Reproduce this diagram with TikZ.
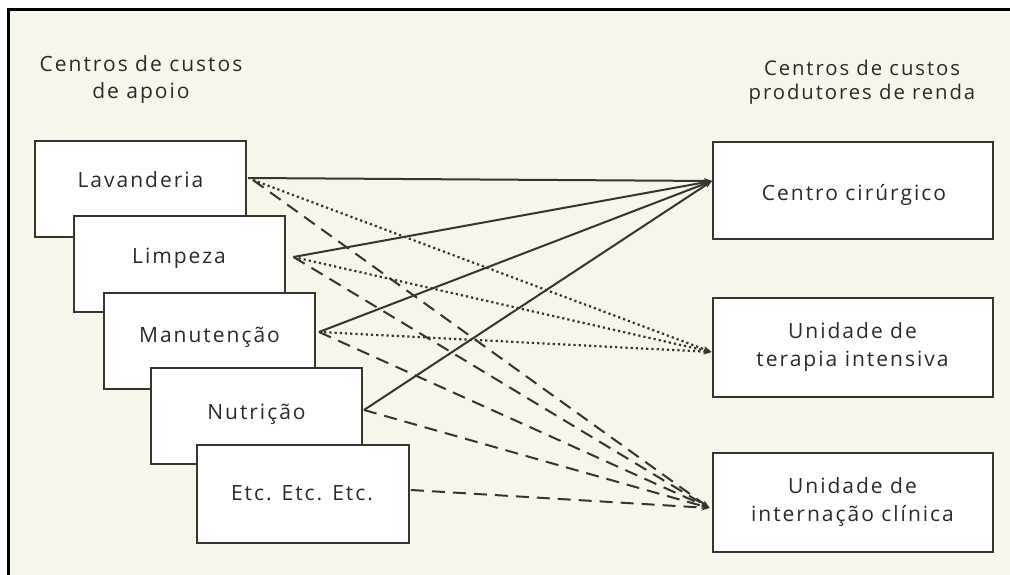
\documentclass[tikz,border=0pt]{standalone}
\usepackage{fontspec}
\setmainfont[LetterSpace=9.5]{Open Sans}
\usetikzlibrary{arrows.meta,calc}
\definecolor{paper}{RGB}{248,245,235}
\definecolor{ink}{RGB}{58,52,46}
\definecolor{txt}{RGB}{45,42,40}
\tikzset{
  box/.style={draw=ink, line width=2pt, fill=white, minimum width=211pt, minimum height=96pt, inner sep=0pt},
  rbox/.style={box, minimum width=280pt, minimum height=98pt, font=\fontsize{21}{28}\selectfont, text=txt, align=center},
  title/.style={font=\fontsize{21}{27}\selectfont, text=txt, align=center, inner sep=0pt},
  rtitle/.style={title, font=\fontsize{20.3}{24}\selectfont},
  conn/.style={draw=ink, line width=2pt, -{Stealth[length=8pt,width=6pt]}},
  solidc/.style={conn},
  dotc/.style={conn, line width=2.2pt, dash pattern=on 2.2pt off 3pt},
  dashc/.style={conn, dash pattern=on 13pt off 8pt},
}
\begin{document}
\begin{tikzpicture}[x=1pt,y=-1pt]
\useasboundingbox (0,0) rectangle (1010,575);
\fill[white] (0,0) rectangle (1010,575);
\fill[paper] (8,10) rectangle (1010,575);
\draw[black, line width=3pt] (8,575) -- (8,10) -- (1010,10);

\node[title] (tl) at (141,80) {Centros de custos\\de apoio};
\node[rtitle] (tr) at (862,82) {Centros de custos\\produtores de renda};

\node[box] (lav) at (140.5,189) {};
\node[box] (lim) at (179,263.5) {};
\node[box] (man) at (209.5,340.5) {};
\node[box] (nut) at (256.5,416) {};
\node[box, minimum width=212pt, minimum height=98pt] (etc) at (303,494) {};

\node[title] (lavt) at (140.5,180) {Lavanderia};
\node[title] (limt) at (179,258) {Limpeza};
\node[title] (mant) at (209.5,337) {Manutenção};
\node[title] (nutt) at (256.5,414) {Nutrição};
\node[title] (etct) at (302,493) {Etc. Etc. Etc.};

\node[rbox, minimum height=97pt] (cc) at (853,190.5) {};
\node[title] (cct) at (854,195) {Centro cirúrgico};
\node[rbox, minimum height=99pt] (uti) at (852.5,347.5) {Unidade de\\terapia intensiva};
\node[rbox, minimum height=99pt] (int) at (852.5,502.5) {Unidade de\\internação clínica};

\coordinate (lavA) at ([xshift=1pt,yshift=11pt]lav.east);
\coordinate (lavB) at ([xshift=6pt,yshift=9pt]lav.east);
\coordinate (limA) at ([xshift=8pt,yshift=6.5pt]lim.east);
\coordinate (manA) at ([xshift=3pt,yshift=8.5pt]man.east);
\coordinate (nutA) at ([xshift=1pt,yshift=6pt]nut.east);
\coordinate (etcA) at ([xshift=1pt,yshift=4pt]etc.east);
\coordinate (ccT) at ([yshift=9.5pt]cc.west);
\coordinate (utiT) at ([yshift=-4.5pt]uti.west);
\coordinate (intT) at ([xshift=-2pt,yshift=-5.5pt]int.west);

\draw[solidc] (lavA) -- (ccT);
\draw[solidc] (limA) -- (ccT);
\draw[solidc] (manA) -- (ccT);
\draw[solidc] (nutA) -- (ccT);

\draw[dotc] (lavB) -- (utiT);
\draw[dotc] (limA) -- (utiT);
\draw[dotc] (manA) -- (utiT);

\draw[dashc] (lavB) -- (intT);
\draw[dashc] (limA) -- (intT);
\draw[dashc] (manA) -- (intT);
\draw[dashc] (nutA) -- (intT);
\draw[dashc] (etcA) -- (intT);
\end{tikzpicture}
\end{document}
